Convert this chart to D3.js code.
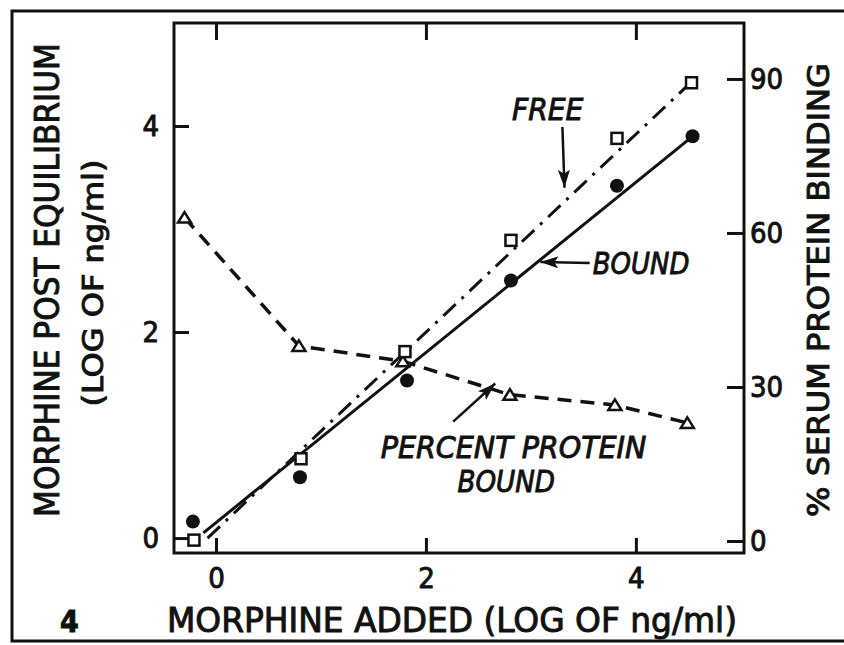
<!DOCTYPE html>
<html>
<head>
<meta charset="utf-8">
<script src="https://cdn.jsdelivr.net/npm/d3@7"></script>
<style>
  body { margin: 0; background: #fff; }
  text { font-family: "DejaVu Sans Condensed", "Liberation Sans Narrow", "DejaVu Sans", sans-serif;
         font-stretch: condensed; font-weight: normal; fill: #111; stroke: #111; stroke-width: 0.9; }
</style>
</head>
<body>
<div id="chart"></div>
<script>
// values
var addedFree = [-0.21, 0.81, 1.80, 2.81, 3.82, 4.53];
var freeValues = [-0.02, 0.77, 1.81, 2.89, 3.88, 4.42];
var addedBound = [-0.22, 0.80, 1.82, 2.81, 3.82, 4.54];
var boundValues = [0.16, 0.59, 1.53, 2.50, 3.42, 3.90];
var addedPercent = [-0.30, 0.79, 1.78, 2.80, 3.80, 4.49];
var percentValues = [63, 38, 35, 28.5, 26.5, 23];

// drawn regression lines (end points)
var freeLineX = [-0.08, 4.50], freeLineY = [0.0, 4.40];
var boundLineX = [-0.12, 4.54], boundLineY = [0.05, 3.90];

var xTicks = [0, 2, 4];
var yTicks = [0, 2, 4];
var y2Ticks = [0, 30, 60, 90];

//All the variables
var margin = { top: 23, right: 100, bottom: 92, left: 174 };
var w = 844, h = 645;
var width = w - margin.left - margin.right;
var height = h - margin.top - margin.bottom;

var svg = d3.select("#chart")
  .append("svg")
    .attr("width", w)
    .attr("height", h);

var defs = svg.append("defs");
defs.append("marker")
    .attr("id", "head")
    .attr("markerUnits", "userSpaceOnUse")
    .attr("markerWidth", 20).attr("markerHeight", 12)
    .attr("refX", 18).attr("refY", 6)
    .attr("orient", "auto")
  .append("path")
    .attr("d", "M0,0 L18,6 L0,12 L4,6 Z")
    .attr("fill", "#111");

// outer frame of the scanned figure
var frame = svg.append("g").attr("stroke", "#111").attr("stroke-width", 3).attr("fill", "none");
frame.append("path").attr("d", "M844,11 H12 V641 H844");

var g = svg.append("g")
    .attr("transform", "translate(" + margin.left + "," + margin.top + ")");

// Scales
var x = d3.scaleLinear().domain([-0.40, 5.03]).range([0, width]);
var y = d3.scaleLinear().domain([-0.145, 5.0]).range([height, 0]);
var y2 = d3.scaleLinear().domain([-2.34, 100.9]).range([height, 0]);

// axes, all ticks pointing inwards
function styleAxis(sel, size) {
  sel.select(".domain").remove();
  sel.selectAll(".tick line").attr("stroke", "#111").attr("stroke-width", 3);
  sel.attr("font-size", size);
}

g.append("g")
  .call(d3.axisLeft(y).tickValues(yTicks).tickSize(-15).tickPadding(15).tickFormat(d3.format("d")))
  .call(styleAxis, 29);

g.append("g")
  .attr("transform", "translate(" + width + ",0)")
  .call(d3.axisRight(y2).tickValues(y2Ticks).tickSize(-17).tickPadding(6).tickFormat(d3.format("d")))
  .call(styleAxis, 29);

g.append("g")
  .attr("transform", "translate(0," + height + ")")
  .call(d3.axisBottom(x).tickValues(xTicks).tickSize(-15).tickPadding(14).tickFormat(d3.format("d")))
  .call(styleAxis, 29);

g.append("g")
  .call(d3.axisTop(x).tickValues(xTicks).tickSize(-17).tickFormat(""))
  .call(styleAxis, 29);

g.append("rect")
  .attr("width", width).attr("height", height)
  .attr("fill", "none").attr("stroke", "#111").attr("stroke-width", 3);

// Lines
var line = d3.line();

g.append("path")
  .attr("d", line(freeLineX.map(function(d, i) { return [x(d), y(freeLineY[i])]; })))
  .attr("fill", "none").attr("stroke", "#111").attr("stroke-width", 3)
  .attr("stroke-dasharray", "17,8,3,8");

g.append("path")
  .attr("d", line(boundLineX.map(function(d, i) { return [x(d), y(boundLineY[i])]; })))
  .attr("fill", "none").attr("stroke", "#111").attr("stroke-width", 3);

g.append("path")
  .attr("d", line(addedPercent.map(function(d, i) { return [x(d), y2(percentValues[i])]; })))
  .attr("fill", "none").attr("stroke", "#111").attr("stroke-width", 3.5)
  .attr("stroke-dasharray", "14,9");

// Points
g.selectAll(".tri")
  .data(addedPercent)
  .enter()
  .append("path")
    .attr("transform", function(d, i) { return "translate(" + x(d) + "," + y2(percentValues[i]) + ")"; })
    .attr("d", "M0,-5.5 L6.5,5 L-6.5,5 Z")
    .attr("fill", "#fff").attr("stroke", "#111").attr("stroke-width", 2.5);

g.selectAll(".sq")
  .data(addedFree)
  .enter()
  .append("rect")
    .attr("x", function(d) { return x(d) - 5.5; })
    .attr("y", function(d, i) { return y(freeValues[i]) - 5.5; })
    .attr("width", 11).attr("height", 11)
    .attr("fill", "#fff").attr("stroke", "#111").attr("stroke-width", 2.5);

g.selectAll(".dot")
  .data(addedBound)
  .enter()
  .append("circle")
    .attr("cx", function(d) { return x(d); })
    .attr("cy", function(d, i) { return y(boundValues[i]); })
    .attr("r", 7)
    .attr("fill", "#111");

// Annotations (data coordinates)
var notes = [
  { text: "FREE", x0: 2.82, x1: 3.50, y: 4.06 },
  { text: "BOUND", x0: 3.59, x1: 4.51, y: 2.56 },
  { text: "PERCENT PROTEIN", x0: 1.57, x1: 4.10, y: 0.78 },
  { text: "BOUND", x0: 2.30, x1: 3.23, y: 0.45 }
];
var arrows = [
  { x0: 3.30, y0: 3.99, x1: 3.32, y1: 3.40 },
  { x0: 3.56, y0: 2.67, x1: 3.09, y1: 2.68 },
  { x0: 2.26, y0: 1.13, x1: 2.66, y1: 1.50 }
];

g.selectAll(".note")
  .data(notes)
  .enter()
  .append("text")
    .attr("x", function(d) { return x(d.x0); })
    .attr("y", function(d) { return y(d.y); })
    .attr("textLength", function(d) { return x(d.x1) - x(d.x0); })
    .attr("lengthAdjust", "spacingAndGlyphs")
    .attr("font-size", 31)
    .attr("font-style", "italic")
    .text(function(d) { return d.text; });

g.selectAll(".arrow")
  .data(arrows)
  .enter()
  .append("line")
    .attr("x1", function(d) { return x(d.x0); })
    .attr("y1", function(d) { return y(d.y0); })
    .attr("x2", function(d) { return x(d.x1); })
    .attr("y2", function(d) { return y(d.y1); })
    .attr("stroke", "#111").attr("stroke-width", 2.5)
    .attr("marker-end", "url(#head)");

// Axis titles
svg.append("text")
  .attr("x", 452).attr("y", 632)
  .attr("text-anchor", "middle")
  .attr("font-size", 34)
  .attr("textLength", 570).attr("lengthAdjust", "spacingAndGlyphs")
  .text("MORPHINE ADDED (LOG OF ng/ml)");

svg.append("text")
  .attr("transform", "translate(59,280) rotate(-90)")
  .attr("text-anchor", "middle")
  .attr("font-size", 33)
  .attr("textLength", 474).attr("lengthAdjust", "spacingAndGlyphs")
  .text("MORPHINE POST EQUILIBRIUM");

svg.append("text")
  .attr("transform", "translate(103,283) rotate(-90)")
  .attr("text-anchor", "middle")
  .attr("font-size", 28)
  .attr("textLength", 247).attr("lengthAdjust", "spacingAndGlyphs")
  .text("(LOG OF ng/ml)");

svg.append("text")
  .attr("transform", "translate(829,290) rotate(-90)")
  .attr("text-anchor", "middle")
  .attr("font-size", 30)
  .attr("textLength", 454).attr("lengthAdjust", "spacingAndGlyphs")
  .text("% SERUM PROTEIN BINDING");

// figure number
svg.append("text")
  .attr("x", 60).attr("y", 632)
  .attr("font-size", 30)
  .style("font-weight", "bold")
  .text("4");
</script>
</body>
</html>
